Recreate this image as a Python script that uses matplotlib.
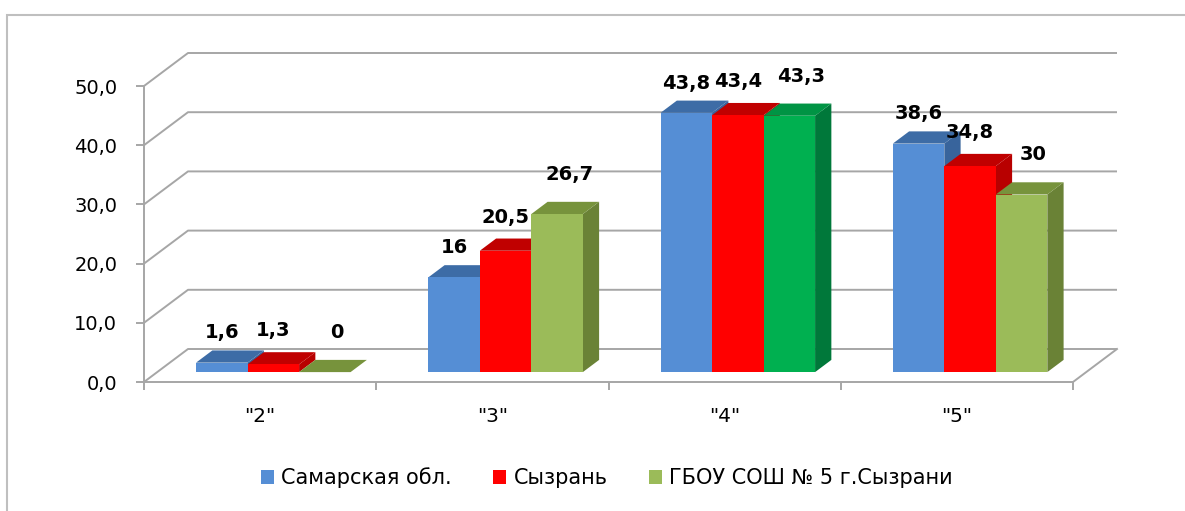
"""3D-style grouped bar chart: grade distribution, Samara region vs Syzran vs school No 5."""

import matplotlib
matplotlib.use("Agg")
import matplotlib.pyplot as plt
import numpy as np
from matplotlib.patches import Patch, Polygon, Rectangle

# ---- data -------------------------------------------------------------------
categories = ['"2"', '"3"', '"4"', '"5"']
series_names = ["Самарская обл.", "Сызрань", "ГБОУ СОШ № 5 г.Сызрани"]
samara = [1.6, 16, 43.8, 38.6]
syzran = [1.3, 20.5, 43.4, 34.8]
school5 = [0, 26.7, 43.3, 30]
y_ticks = [0, 10, 20, 30, 40, 50]

# ---- style ------------------------------------------------------------------
# (front, top, side) per series; the school bar of "4" is drawn bright green
FACE = [
    ("#558ED5", "#3D6CA6", "#38649C"),
    ("#FF0000", "#C00000", "#B80000"),
    ("#9BBB59", "#77933C", "#6A8236"),
]
OVERRIDE = {(2, 2): ("#00B050", "#009444", "#00783A")}
LEGEND_COLORS = ["#558ED5", "#FF0000", "#9BBB59"]
GRID = "#A6A6A6"

W_PX, H_PX = 1185, 511
# mapping of the front plane: x=-0.5 at px 144, y=0 at px 382
X0_PX, Y0_PX = 144, 382
PX_PER_CAT, PX_PER_UNIT = 232.25, 5.92


def xd(px):
    return -0.5 + (px - X0_PX) / PX_PER_CAT


def yd(px):
    return (Y0_PX - px) / PX_PER_UNIT


DX = 44 / PX_PER_CAT       # wall depth
DY = 33 / PX_PER_UNIT
BAR_FRONT = 0.3            # bar front face sits 30% into the depth
BAR_DEPTH = 0.37
BW = 51.5 / PX_PER_CAT     # bar width
LABEL_GAP_PX = [8, 12, 18]
LABEL_DX_PX = [0, 0, 12]

fig = plt.figure(figsize=(W_PX / 100, H_PX / 100), dpi=100)
# chart border: only the top and left edges fall inside the picture
fig.patches.append(Rectangle((7 / W_PX, -1.0), 3.0, 2.0 - 15 / H_PX,
                             transform=fig.transFigure, fill=False,
                             edgecolor="#BFBFBF", linewidth=1.5))

ax = fig.add_axes([100 / W_PX, 1 - 400 / H_PX, 1040 / W_PX, 360 / H_PX])
ax.set_xlim(xd(100), xd(1140))
ax.set_ylim(yd(400), yd(40))
ax.patch.set_visible(False)

# walls: back gridlines + side wall diagonals, floor right edge
for v in y_ticks:
    ax.plot([-0.5, -0.5 + DX, len(categories) - 0.5 + DX], [v, v + DY, v + DY],
            color=GRID, lw=1.4, zorder=1, clip_on=False, solid_capstyle="butt")
ax.plot([len(categories) - 0.5, len(categories) - 0.5 + DX], [0, DY],
        color=GRID, lw=1.4, zorder=1)

# bars
x = np.arange(len(categories))
base = BAR_FRONT * DY
bdx, bdy = BAR_DEPTH * DX, BAR_DEPTH * DY
values = [samara, syzran, school5]
z = 2
for i in range(len(categories)):
    for j, vals in enumerate(values):
        v = vals[i]
        front, top, side = OVERRIDE.get((j, i), FACE[j])
        x0 = x[i] + BAR_FRONT * DX - 1.5 * BW + j * BW
        t = base + v
        ax.add_patch(Polygon([(x0 + BW, base), (x0 + BW, t), (x0 + BW + bdx, t + bdy),
                              (x0 + BW + bdx, base + bdy)], closed=True,
                             facecolor=side, edgecolor="none", zorder=z))
        ax.add_patch(Polygon([(x0, t), (x0 + BW, t), (x0 + BW + bdx, t + bdy),
                              (x0 + bdx, t + bdy)], closed=True,
                             facecolor=top, edgecolor="none", zorder=z))
        ax.bar(x0, v, width=BW, bottom=base, align="edge", color=front,
               edgecolor="none", zorder=z)
        z += 1
        label = f"{v:g}".replace(".", ",")
        ax.text(x0 + BW / 2 + LABEL_DX_PX[j] / PX_PER_CAT,
                t + bdy + LABEL_GAP_PX[j] / PX_PER_UNIT, label,
                ha="center", va="bottom", fontsize=14, fontweight="bold",
                color="black", zorder=50)

# axes lines and ticks
for s in ("top", "right"):
    ax.spines[s].set_visible(False)
ax.spines["left"].set_position(("data", -0.5))
ax.spines["left"].set_bounds(0, 50)
ax.spines["bottom"].set_position(("data", 0))
ax.spines["bottom"].set_bounds(-0.5, len(categories) - 0.5)
for s in ("left", "bottom"):
    ax.spines[s].set_color(GRID)
    ax.spines[s].set_linewidth(1.4)
    ax.spines[s].set_zorder(1)

ax.set_yticks(y_ticks)
ax.set_yticklabels([f"{v:.1f}".replace(".", ",") for v in y_ticks])
ax.tick_params(axis="y", length=5.8, width=1.4, color=GRID, pad=13.5,
               labelsize=14)
ax.set_xticks(np.arange(len(categories) + 1) - 0.5)
ax.set_xticklabels([])
ax.set_xticks(x, minor=True)
ax.set_xticklabels(categories, minor=True)
ax.tick_params(axis="x", which="major", length=5.8, width=1.4, color=GRID)
ax.tick_params(axis="x", which="minor", length=0, pad=18, labelsize=14.5)

handles = [Patch(facecolor=c, edgecolor="none") for c in LEGEND_COLORS]
fig.legend(handles, series_names, loc="center", bbox_to_anchor=(607 / W_PX, 1 - 478 / H_PX),
           ncol=3, frameon=False, fontsize=15, handlelength=0.62, handleheight=0.62,
           handletextpad=0.34, columnspacing=2.0)

fig.savefig("out.png", dpi=100)
